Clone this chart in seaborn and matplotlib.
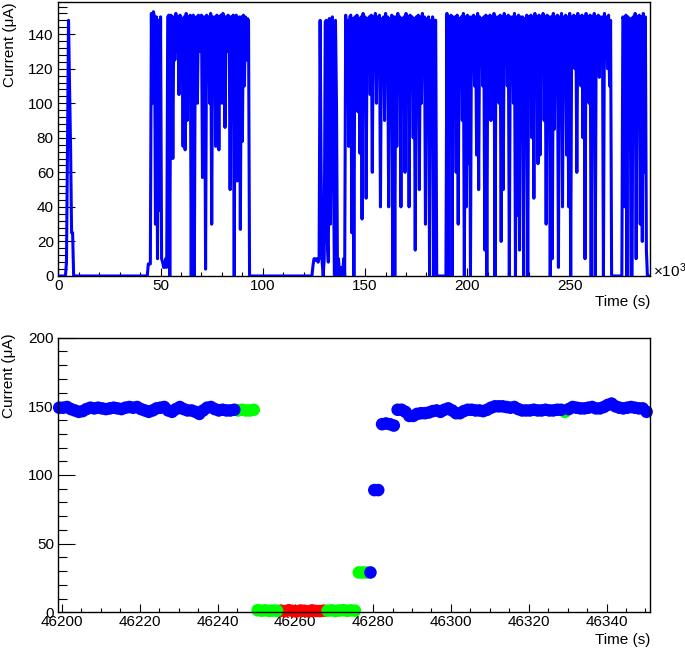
import numpy as np
import pandas as pd
import matplotlib
matplotlib.use("Agg")
import matplotlib.pyplot as plt
import seaborn as sns
from matplotlib.ticker import MultipleLocator, ScalarFormatter

# ---------------- top panel data (time in 10^3 s, current in uA) ----------------
STEP_K = 0.5  # sampling step of the runs below, in 10^3 s

spike_t = [0.0, 3.5, 4.0, 4.5, 5.0, 5.5, 6.0, 6.5, 7.0, 7.5, 8.0]
spike_i = [0, 0, 8, 75, 148, 110, 75, 25, 25, 0, 0]

run1_start = 43.5
run1_i = [0, 7, 7, 7, 152, 100, 153, 150, 30, 150, 10, 148, 38, 150, 10, 8, 5, 5, 10, 5,
          150, 151, 0, 151, 150, 68, 150, 125, 152, 130, 150, 105, 151, 125, 149, 75, 150, 73,
          152, 90, 150, 120, 151, 0, 150, 151, 0, 149, 150, 100, 151, 130, 150, 151, 57, 150,
          150, 4, 151, 128, 150, 100, 152, 30, 150, 120, 150, 75, 151, 150, 73, 150, 151, 100,
          152, 150, 86, 150, 130, 151, 150, 50, 150, 125, 151, 0, 150, 151, 55, 149, 150, 27,
          150, 78, 151, 110, 150, 125, 149, 148, 0]

run2_start = 124.0
run2_i = [0, 6, 10, 10, 9, 10, 8, 10, 148, 60, 8, 0, 10, 147, 148, 20, 8, 149, 30, 148, 150,
          60, 0, 148, 100, 0, 10, 0, 0, 5, 0, 10, 0, 151, 120, 148, 75, 150, 151, 25, 149, 0,
          150, 120, 151, 95, 149, 71, 150, 33, 152, 125, 150, 45, 149, 130, 150, 105, 151, 60,
          150, 125, 152, 100, 150, 120, 151, 40, 149, 130, 150, 90, 152, 115, 150, 40, 149, 125,
          151, 0, 150, 0, 150, 75, 152, 120, 150, 40, 149, 110, 150, 60, 152, 130, 150, 40, 151,
          120, 150, 80, 149, 15, 150, 125, 151, 50, 150, 100, 152, 120, 150, 30, 149, 130, 150,
          0, 148, 115, 150, 0, 148, 148, 0]

run3_start = 189.5
run3_i = [0, 152, 0, 150, 130, 151, 0, 150, 120, 150, 60, 151, 30, 149, 125, 150, 90, 152, 0,
          150, 40, 151, 65, 150, 0, 150, 120, 151, 110, 150, 70, 152, 50, 150, 125, 149, 110,
          150, 15, 151, 0, 150, 130, 151, 90, 150, 120, 152, 0, 150, 125, 150, 100, 151, 20, 150,
          50, 152, 130, 150, 110, 151, 0, 150, 125, 150, 100, 152, 0, 150, 35, 151, 15, 150, 125,
          150, 0, 149, 120, 151, 0, 150, 130, 151, 80, 150, 45, 152, 125, 150, 65, 151, 70, 150,
          130, 152, 90, 150, 30, 151, 120, 150, 0, 150, 10, 152, 85, 150, 110, 151, 5, 150, 120,
          152, 40, 150, 130, 151, 70, 150, 40, 152, 0, 150, 125, 151, 120, 150, 60, 152, 130, 150,
          110, 151, 80, 150, 10, 152, 125, 150, 100, 151, 0, 150, 120, 152, 0, 150, 130, 151, 115,
          150, 125, 150, 0, 152, 130, 150, 120, 151, 110, 148, 0]

run4_start = 275.5
run4_i = [0, 150, 148, 40, 151, 0, 150, 120, 149, 0, -2, 150, 80, 152, 10, 150, 100, 151, 30,
          150, 20, 152, 60, 150, 15, 0]

end_t = [289.5]
end_i = [0]

# ---------------- bottom panel data (time in s, current in uA, status) ----------------
bot_t0 = 46199.3
grp_values = {
    "blue_hi1": [149, 149, 149.5, 148, 147, 146, 146.5, 148, 149, 148.5, 149, 148.5, 148, 148.5,
                 149, 148.5, 148, 149, 149.5, 149, 149.5, 148, 147, 146, 147, 148.5, 149, 149.5,
                 147, 146, 148, 149.5, 148, 147, 147, 146, 144.5, 147, 149, 149.5, 148, 147,
                 147.5, 147, 147, 147.5],
    "green_hi": [147, 147.5, 147, 147, 147.5],
    "green_lo1": [1.5, 1.2, 1.4, 1.0, 1.3, 1.1],
    "red_lo": [1.2, 0.8, 1.5, 1.0, 0.6, 1.3, 1.1, 0.7, 1.4, 1.0, 0.9, 1.2],
    "green_lo2": [1.2, 1.4, 1.0, 1.3, 1.5, 1.1, 1.4, 1.2],
    "green_29": [29, 29, 29],
    "blue_29": [29],
    "blue_89": [89, 89],
    "blue_137": [137, 137.5, 137, 136],
    "blue_hi2": [147.5, 147.5, 146, 143, 143, 144.5, 145, 145, 145.5, 146.5, 147, 146, 147.5,
                 148.5, 147, 145, 145, 146.5, 147.5, 147.5, 147, 147, 146.5, 147.5, 149, 150,
                 150, 150, 149.5, 149, 149.5, 148, 147, 147, 147, 147.5, 147, 147, 147.5, 147,
                 147, 147.5, 147.5, 146, 148, 149.5, 149, 148.5, 148.5, 149, 149.5, 148.5,
                 148.5, 149.5, 151, 152, 150, 149, 148.5, 149, 149.5, 149, 148.5, 148.5, 146],
}
grp_color = {"blue_hi1": "blue", "green_hi": "green", "green_lo1": "green", "red_lo": "red",
             "green_lo2": "green", "green_29": "green", "blue_29": "blue", "blue_89": "blue",
             "blue_137": "blue", "blue_hi2": "blue"}
green_inside_hi2 = 43  # index of the single green sample inside the last blue run

# ---------------- build tables ----------------
tk, ik = list(spike_t), list(spike_i)
for start, vals in [(run1_start, run1_i), (run2_start, run2_i), (run3_start, run3_i),
                    (run4_start, run4_i)]:
    tk += list(start + STEP_K * np.arange(len(vals)))
    ik += list(vals)
tk += end_t
ik += end_i
top = pd.DataFrame({"t": tk, "I": ik})

rows = []
k = 0
for g, vals in grp_values.items():
    for j, v in enumerate(vals):
        col = grp_color[g]
        if g == "blue_hi2" and j == green_inside_hi2:
            col = "green"
        rows.append((bot_t0 + k, v, col))
        k += 1
bot = pd.DataFrame(rows, columns=["t", "I", "state"])
order = {"red": 0, "green": 1, "blue": 2}
bot = bot.iloc[np.argsort(bot["state"].map(order).values, kind="stable")]

# ---------------- style ----------------
sns.set_theme(style="ticks")
plt.rcParams["font.family"] = ["Liberation Sans", "DejaVu Sans"]
plt.rcParams["mathtext.fontset"] = "custom"
plt.rcParams["mathtext.rm"] = "Liberation Sans"
plt.rcParams["mathtext.it"] = "Liberation Sans:italic"
plt.rcParams["text.color"] = "black"
plt.rcParams["axes.labelcolor"] = "black"
plt.rcParams["xtick.color"] = "black"
plt.rcParams["ytick.color"] = "black"
plt.rcParams["path.simplify"] = False

FS = 11

fig = plt.figure(figsize=(6.85, 6.5), dpi=100)
fig.patch.set_facecolor("white")
ax1 = fig.add_axes([0.0851, 0.5754, 0.8645, 0.4215])
ax2 = fig.add_axes([0.0851, 0.0580, 0.8645, 0.4225])

sns.lineplot(data=top, x="t", y="I", ax=ax1, color="#0000ff", linewidth=2.2,
             estimator=None, sort=False, zorder=3)
sns.scatterplot(data=bot, x="t", y="I", hue="state",
                palette={"red": "#ff0000", "green": "#00ff00", "blue": "#0000ff"},
                s=82, linewidth=0, legend=False, ax=ax2, clip_on=False, zorder=2)

ax1.set_xlim(0, 289.5)
ax1.set_ylim(0, 158.6)
ax2.set_xlim(46199.05, 46351.3)
ax2.set_ylim(0, 200)

ax1.xaxis.set_major_locator(MultipleLocator(50))
ax1.xaxis.set_minor_locator(MultipleLocator(10))
ax1.yaxis.set_major_locator(MultipleLocator(20))
ax1.yaxis.set_minor_locator(MultipleLocator(4))
ax2.xaxis.set_major_locator(MultipleLocator(20))
ax2.xaxis.set_minor_locator(MultipleLocator(5))
ax2.yaxis.set_major_locator(MultipleLocator(50))
ax2.yaxis.set_minor_locator(MultipleLocator(10))

for ax in (ax1, ax2):
    ax.set_facecolor("white")
    f = ScalarFormatter(useOffset=False)
    ax.xaxis.set_major_formatter(f)
    for s in ax.spines.values():
        s.set_visible(True)
        s.set_color("black")
        s.set_linewidth(1.0)
    ax.tick_params(which="both", direction="in", top=False, right=False, width=0.8,
                   labelsize=FS, colors="black")
    ax.tick_params(axis="y", which="major", length=12.4, pad=3.2)
    ax.tick_params(axis="y", which="minor", length=6.2)
    ax.tick_params(axis="x", which="major", length=5.8, pad=2.2)
    ax.tick_params(axis="x", which="minor", length=2.9)
    ax.set_ylabel("Current (μA)", loc="top", fontsize=FS)
    ax.set_xlabel("Time (s)", loc="right", fontsize=FS)

ax1.yaxis.set_label_coords(-0.070, 1.0)
ax2.yaxis.set_label_coords(-0.072, 1.015)
ax1.xaxis.set_label_coords(1.0, -0.068)
ax2.xaxis.set_label_coords(1.0, -0.074)

ax1.text(1.004, -0.002, r"$\times10^{3}$", transform=ax1.transAxes, ha="left",
         va="baseline", fontsize=FS)

fig.savefig("out.png", dpi=100, facecolor="white")
